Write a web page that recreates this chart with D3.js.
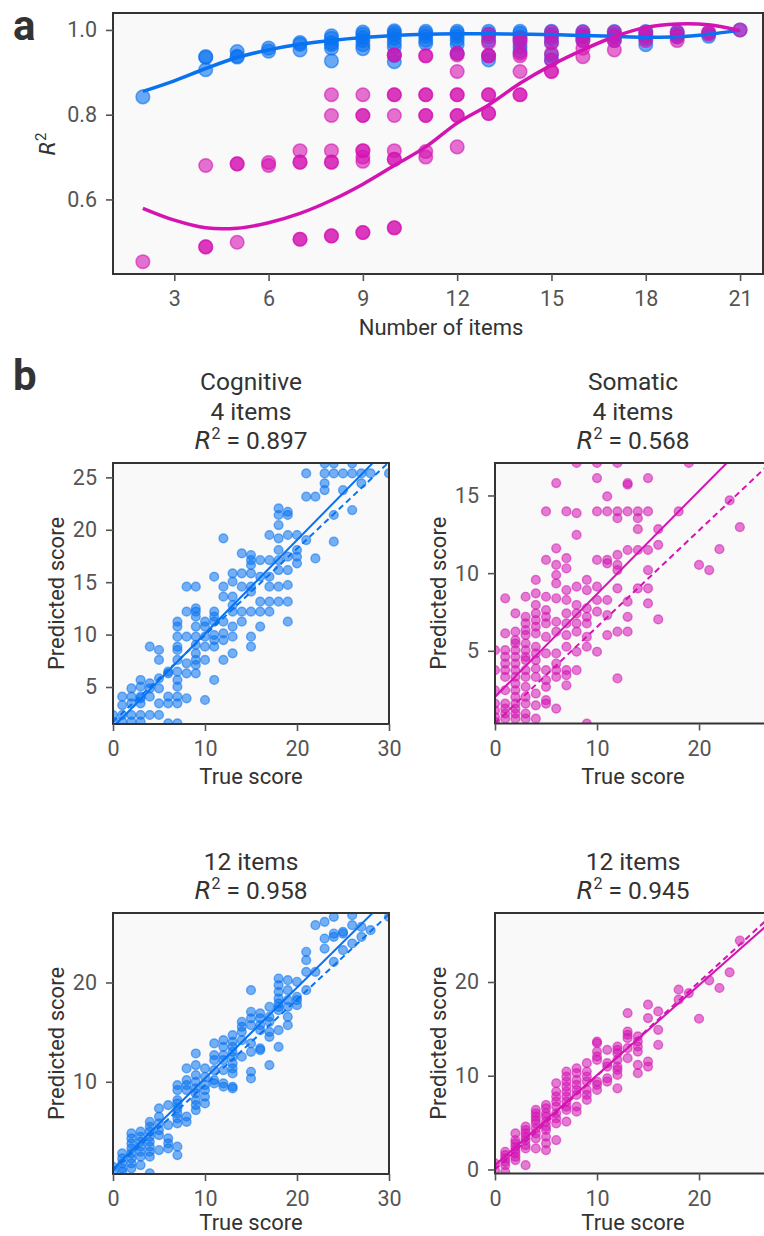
<!DOCTYPE html>
<html>
<head>
<meta charset="utf-8">
<script src="https://cdn.jsdelivr.net/npm/d3@7"></script>
<style>
  body { margin: 0; background: #fff; }
  svg { display: block; font-family: Roboto, "DejaVu Sans", sans-serif; }
</style>
</head>
<body>
<svg id="fig" width="764" height="1236"></svg>
<script>
// ---------- panel a: R^2 vs number of items ----------
const itemTicks = [3, 6, 9, 12, 15, 18, 21];
const r2Ticks = [0.6, 0.8, 1.0];
const fitItems = [2, 3, 4, 5, 6, 7, 8, 9, 10, 11, 12, 13, 14, 15, 16, 17, 18, 19, 20, 21];
const cognitiveFit = [0.855, 0.880, 0.909, 0.935, 0.953, 0.966, 0.975, 0.982, 0.987, 0.990,
                      0.991, 0.991, 0.990, 0.989, 0.987, 0.985, 0.983, 0.984, 0.990, 0.999];
const somaticFit = [0.579, 0.551, 0.533, 0.532, 0.545, 0.567, 0.598, 0.636, 0.680, 0.724,
                    0.780, 0.823, 0.874, 0.917, 0.953, 0.984, 1.006, 1.014, 1.012, 0.998];

// [items, R^2]
const cognitiveR2 = [
  [2, .842], [4, .937], [4, .935], [4, .906], [5, .949], [5, .938], [5, .936], [6, .957], [6, .950],
  [7, .970], [7, .966], [7, .953], [8, .986], [8, .980], [8, .970], [8, .965], [8, .957], [8, .927],
  [9, .995], [9, .990], [9, .982], [9, .975], [9, .965], [9, .956],
  [10, .998], [10, .994], [10, .988], [10, .980], [10, .970], [10, .960], [10, .940], [10, .925],
  [11, .997], [11, .992], [11, .985], [11, .976], [11, .968],
  [12, .997], [12, .992], [12, .985], [12, .976], [12, .966], [12, .945],
  [13, .997], [13, .991], [13, .984], [13, .975], [13, .940], [13, .929],
  [14, .997], [14, .992], [14, .984], [14, .976], [14, .960], [14, .950],
  [15, .997], [15, .990], [15, .980], [15, .970], [15, .940], [15, .929],
  [16, .996], [16, .990], [16, .983], [16, .975], [17, .996], [17, .990], [17, .983], [17, .975],
  [18, .996], [18, .990], [18, .980], [18, .965], [19, .995], [19, .990], [19, .983],
  [20, .993], [20, .985], [21, 1.0]
];
const somaticR2 = [
  [2, .453], [4, .680], [4, .488], [4, .488], [5, .684], [5, .684], [5, .499], [6, .687], [6, .680],
  [7, .715], [7, .688], [7, .688], [7, .506], [7, .506],
  [8, .847], [8, .798], [8, .715], [8, .688], [8, .688], [8, .514], [8, .514],
  [9, .847], [9, .798], [9, .798], [9, .715], [9, .715], [9, .700], [9, .690], [9, .522], [9, .522],
  [10, .941], [10, .941], [10, .847], [10, .847], [10, .798], [10, .715], [10, .695], [10, .695], [10, .533], [10, .533],
  [11, .939], [11, .939], [11, .847], [11, .847], [11, .798], [11, .798], [11, .713], [11, .700],
  [12, .945], [12, .941], [12, .902], [12, .847], [12, .847], [12, .798], [12, .798], [12, .724],
  [13, .990], [13, .970], [13, .939], [13, .939], [13, .847], [13, .847], [13, .803], [13, .803],
  [14, .980], [14, .970], [14, .945], [14, .939], [14, .902], [14, .847], [14, .847],
  [15, .995], [15, .985], [15, .970], [15, .945], [15, .929], [15, .902], [15, .902],
  [16, .995], [16, .985], [16, .975], [16, .957], [16, .937],
  [17, .995], [17, .985], [17, .975], [17, .953],
  [18, .995], [18, .985], [18, .975], [19, .995], [19, .985], [19, .975],
  [20, .995], [20, .990], [21, 1.0]
];

// ---------- panel b: predicted vs true score, [true, [predicted...]] ----------
const cog4Cols = [
  [0, [2.33, 1.69]], [1, [2.33, 1.69, 4.08, 3.28]], [2, [2.33, 1.69, 4.87, 4.08, 3.44]],
  [3, [2.33, 1.69, 5.03, 5.67, 4.08, 3.44, 3.92]], [4, [2.33, 4.08, 4.87, 5.35, 8.85]],
  [5, [2.33, 3.44, 4.87, 5.83, 7.58, 8.53]], [6, [1.53, 4.08, 3.44, 6.30, 6.46]],
  [7, [1.53, 3.44, 4.08, 5.03, 5.67, 6.46, 7.58, 8.53, 8.85, 9.80, 10.76, 11.23]],
  [8, [3.92, 6.30, 7.26, 9.80, 12.19, 14.57]],
  [9, [6.30, 7.10, 7.58, 8.21, 9.01, 9.80, 10.76, 11.71, 12.19, 12.50, 14.57]],
  [10, [3.76, 7.58, 8.85, 9.80, 10.76, 11.23]],
  [11, [5.67, 8.85, 9.48, 9.96, 11.23, 11.71, 12.19, 15.52]],
  [12, [7.58, 9.48, 10.12, 11.23, 13.62, 14.57, 19.18]],
  [13, [8.21, 9.80, 10.76, 12.19, 12.82, 13.62, 15.05, 15.84]],
  [14, [11.23, 12.19, 14.57, 15.84, 17.75]],
  [15, [8.85, 9.80, 12.19, 14.09, 14.57, 15.84, 16.64, 17.11, 17.59]],
  [16, [10.76, 12.19, 13.14, 15.52, 17.11]],
  [17, [12.19, 13.14, 14.57, 15.52, 17.11, 19.50]],
  [18, [13.14, 14.57, 16.16, 17.11, 18.07, 19.18, 20.45, 21.41, 22.04]],
  [19, [11.23, 13.14, 14.73, 16.16, 17.43, 19.50, 21.41, 21.72]],
  [20, [16.80, 17.43, 18.07, 19.50]], [21, [19.02, 23.16, 25.38]], [22, [17.27, 23.16]],
  [23, [23.79, 24.43, 25.38, 26.34]], [24, [18.86, 21.41, 25.38, 26.34]], [25, [23.79, 25.38]],
  [26, [21.88, 25.38, 26.34]], [27, [24.43, 25.38]], [28, [25.38]], [30, [25.38]]
];
const som4Cols = [
  [0, [5.04, 3.75, 2.46, 1.60, 1.17, 0.74, 0.42]],
  [1, [8.38, 6.12, 5.04, 4.61, 4.18, 3.75, 3.32, 2.46, 1.60, 1.28, 0.96, 0.63]],
  [2, [7.41, 6.23, 5.69, 5.47, 5.04, 4.61, 4.18, 3.75, 3.32, 2.89, 2.46, 2.03, 1.60, 1.28, 0.96, 0.63]],
  [3, [8.48, 7.19, 6.76, 6.33, 6.01, 5.47, 5.04, 4.61, 4.40, 3.75, 3.32, 2.68, 2.03, 1.60, 0.96, 0.63]],
  [4, [9.56, 8.70, 7.95, 7.41, 6.98, 6.55, 6.12, 5.26, 4.83, 4.40, 3.86, 3.32, 2.25, 1.49, 0.63]],
  [5, [13.97, 10.85, 8.48, 7.62, 7.19, 6.76, 5.90, 4.83, 3.75, 3.11, 2.68, 1.82, 1.60]],
  [6, [15.80, 11.60, 10.53, 9.88, 9.34, 8.38, 6.87, 6.23, 4.83, 4.18, 3.75, 3.32, 1.28]],
  [7, [13.97, 10.96, 10.31, 8.91, 8.27, 7.41, 6.76, 6.01, 5.26, 3.75, 3.43, 2.78]],
  [8, [17.09, 13.86, 12.46, 9.13, 7.95, 7.41, 6.76, 6.23, 4.94, 3.75]],
  [9, [9.56, 8.91, 7.73, 7.19, 6.76, 5.90, 5.26, 0.31]],
  [10, [17.09, 16.12, 13.97, 10.85, 9.13, 8.27, 7.52, 4.94]],
  [11, [14.94, 13.97, 10.85, 10.63, 8.27, 7.30, 6.01]],
  [12, [17.09, 13.97, 13.54, 11.17, 10.53, 10.20, 9.02, 6.23, 3.22]],
  [13, [15.80, 15.69, 13.97, 11.49, 8.16, 7.19, 6.23]],
  [14, [13.97, 13.54, 12.83, 11.49, 9.02]],
  [15, [16.12, 13.97, 11.49, 10.20, 9.02, 8.05]],
  [16, [12.83, 11.82, 7.02]], [18, [13.97]], [19, [17.09]], [20, [10.53]],
  [21, [10.20]], [22, [11.54]], [23, [14.68]], [24, [12.96]]
];
const cog12Cols = [
  [0, [1.44, 0.94]], [1, [2.79, 2.28, 1.78, 1.28, 0.94]],
  [2, [4.80, 4.30, 3.79, 3.29, 2.79, 2.28, 1.78, 1.28]],
  [3, [4.97, 4.46, 3.96, 3.46, 2.95, 2.45, 1.61]],
  [4, [5.97, 5.47, 4.97, 4.46, 3.96, 3.46, 2.95, 2.45, 0.77]],
  [5, [7.32, 6.48, 5.81, 5.13, 4.63, 3.12]], [6, [7.65, 5.64, 4.30, 3.79, 3.29]],
  [7, [9.66, 9.16, 8.15, 7.82, 7.32, 6.81, 6.31, 5.81, 3.46, 2.62]],
  [8, [11.34, 10.17, 9.66, 9.16, 6.48, 5.97]],
  [9, [12.85, 11.68, 10.67, 10.00, 9.33, 8.83, 8.15, 7.65, 7.15]],
  [10, [11.34, 10.50, 9.66, 9.16, 8.49, 7.82]],
  [11, [13.86, 12.68, 12.18, 11.17, 10.17, 9.83]],
  [12, [14.19, 13.52, 12.68, 12.18, 11.17, 9.83, 9.50]],
  [13, [14.70, 14.03, 13.52, 13.02, 12.52, 11.85, 11.34, 10.84, 9.50, 9.33]],
  [14, [16.04, 15.54, 15.03, 14.19, 12.52]],
  [15, [19.23, 17.05, 16.38, 15.70, 13.86, 13.02, 11.01, 10.34]],
  [16, [16.88, 16.38, 15.70, 15.20, 13.36, 13.19]],
  [17, [17.55, 16.54, 16.04, 15.03, 14.53, 11.68]],
  [18, [20.40, 19.73, 19.06, 18.39, 17.89, 17.55, 17.21, 15.20, 13.52]],
  [19, [20.23, 19.23, 18.22, 17.55, 16.54, 15.70]],
  [20, [20.07, 18.56, 18.22, 17.72]], [21, [23.09, 22.25, 21.07, 19.23]], [22, [25.77, 21.07]],
  [23, [26.11, 24.43, 23.42]], [24, [26.61, 24.93, 24.60, 22.08]], [25, [25.10, 24.93, 23.26]],
  [26, [26.78, 25.77, 23.93]], [27, [25.60, 24.60]], [28, [25.27]], [30, [26.61]]
];
const som12Cols = [
  [0, [0.64, -0.07]], [1, [1.89, 1.53, 1.18, 0.82, 0.46, -0.25]],
  [2, [3.85, 3.14, 2.78, 2.42, 2.07, 1.71, 1.35, 1.00]],
  [3, [4.56, 4.21, 3.85, 3.49, 3.14, 2.60, 2.25, 0.46]],
  [4, [6.35, 5.99, 5.63, 5.28, 4.92, 4.39, 3.85, 3.32, 2.25]],
  [5, [6.88, 6.52, 5.99, 5.63, 5.10, 4.56, 4.21, 3.49, 2.78, 2.07]],
  [6, [9.20, 8.31, 7.77, 7.24, 6.70, 5.99, 5.45, 4.92, 3.14]],
  [7, [10.45, 9.91, 9.38, 8.84, 8.31, 7.77, 7.24, 6.70, 6.35, 5.10]],
  [8, [10.80, 10.27, 9.55, 9.02, 8.48, 7.95, 6.70, 6.17]],
  [9, [11.34, 10.45, 9.91, 9.38, 8.48, 7.95, 7.42]],
  [10, [13.65, 13.48, 12.58, 12.05, 11.69, 9.38, 9.02, 8.48]],
  [11, [12.76, 11.34, 10.98, 9.73, 9.38]],
  [12, [13.12, 12.76, 12.41, 11.69, 10.98, 10.62, 10.09, 8.66]],
  [13, [16.68, 14.72, 14.37, 14.01, 12.94, 11.87]],
  [14, [14.19, 13.65, 13.12, 12.58, 11.16, 10.27]],
  [15, [17.58, 16.15, 11.52, 10.98]], [16, [16.86, 14.90, 13.30]],
  [18, [19.18, 18.11]], [19, [18.82]], [20, [16.08]], [21, [20.18]],
  [22, [19.36]], [23, [21.03]], [24, [24.42]]
];
// [slope, intercept] of the solid fit line and the dashed reference line
const cog4Fit = [0.893, 1.16], cog4Ref = [0.826, 1.68];
const som4Fit = [0.663, 2.03], som4Ref = [0.621, 0.33];
const cog12Fit = [0.914, 1.21], cog12Ref = [0.86, 1.08];
const som12Fit = [0.960, 0.46], som12Ref = [1.0, 0.0];

const BLUE = "#0872f0", MAG = "#d314b3";
const BG = "#f9f9f9", FRAME = "#333", TICK = "#555", TXT = "#333";
const TICK_FS = "21.5px", LABEL_FS = "22px", TITLE_FS = "24.5px";

const svg = d3.select("#fig");
const flat = cols => cols.flatMap(([x, ys]) => ys.map(y => [x, y]));

function styleAxis(sel) {
  sel.attr("font-size", null).attr("font-family", null);
  sel.select(".domain").remove();
  sel.selectAll(".tick line").attr("stroke", TICK).attr("stroke-width", 1.6);
  sel.selectAll(".tick text").attr("fill", TICK).style("font-size", TICK_FS);
}

function drawFrame(g, x, y) {
  const [x0, x1] = x.range(), [y0, y1] = y.range();
  g.append("rect").attr("x", x0).attr("y", y1).attr("width", x1 - x0).attr("height", y0 - y1)
    .attr("fill", "none").attr("stroke", FRAME).attr("stroke-width", 2);
}

function addClip(id, x, y) {
  const [x0, x1] = x.range(), [y0, y1] = y.range();
  svg.append("clipPath").attr("id", id).append("rect")
    .attr("x", x0).attr("y", y1).attr("width", x1 - x0).attr("height", y0 - y1);
}

// ---------------- panel a ----------------
{
  const x = d3.scaleLinear().domain([1.05, 21.73]).range([113, 763]);
  const y = d3.scaleLinear().domain([0.424, 1.04]).range([274, 13]);
  const g = svg.append("g");
  addClip("clip-a", x, y);
  g.append("rect").attr("x", 113).attr("y", 13).attr("width", 650).attr("height", 261).attr("fill", BG);
  const p = g.append("g").attr("clip-path", "url(#clip-a)");

  [[cognitiveR2, BLUE], [somaticR2, MAG]].forEach(([pts, c]) => {
    p.append("g").selectAll("circle").data(pts).join("circle")
      .attr("cx", d => x(d[0])).attr("cy", d => y(d[1])).attr("r", 6.8)
      .attr("fill", c).attr("fill-opacity", 0.6)
      .attr("stroke", c).attr("stroke-opacity", 0.6).attr("stroke-width", 1.5);
  });

  const line = vals => d3.line().curve(d3.curveCatmullRom)
    .x((d, i) => x(fitItems[i])).y(d => y(d))(vals);
  p.append("path").attr("d", line(cognitiveFit)).attr("fill", "none").attr("stroke", BLUE).attr("stroke-width", 3.5);
  p.append("path").attr("d", line(somaticFit)).attr("fill", "none").attr("stroke", MAG).attr("stroke-width", 3.5);

  drawFrame(g, x, y);
  g.append("g").attr("transform", "translate(0,274)")
    .call(d3.axisBottom(x).tickValues(itemTicks).tickSize(7).tickPadding(10)).call(styleAxis);
  g.append("g").attr("transform", "translate(113,0)")
    .call(d3.axisLeft(y).tickValues(r2Ticks).tickFormat(d3.format(".1f")).tickSize(7).tickPadding(9)).call(styleAxis);

  g.append("text").attr("x", 441).attr("y", 335).attr("text-anchor", "middle")
    .attr("fill", TXT).style("font-size", LABEL_FS).text("Number of items");
  const r2 = g.append("text").attr("transform", "translate(55,144) rotate(-90)")
    .attr("text-anchor", "middle").attr("fill", TXT).style("font-size", "21px");
  r2.append("tspan").style("font-style", "italic").attr("font-family", "DejaVu Sans").text("R");
  r2.append("tspan").attr("dy", -9).style("font-size", "15px").text("2");

  svg.append("text").attr("x", 13).attr("y", 40).attr("fill", TXT)
    .style("font-size", "42px").style("font-weight", "bold").text("a");
}

// ---------------- panel b ----------------
svg.append("text").attr("x", 13).attr("y", 390).attr("fill", TXT)
  .style("font-size", "42px").style("font-weight", "bold").text("b");

function scatterPanel(o) {
  const x = d3.scaleLinear().domain(o.xDomain).range(o.xRange);
  const y = d3.scaleLinear().domain(o.yDomain).range(o.yRange);
  const g = svg.append("g");
  addClip("clip-" + o.id, x, y);
  const [x0, x1] = o.xRange, [y0, y1] = o.yRange;
  g.append("rect").attr("x", x0).attr("y", y1).attr("width", x1 - x0).attr("height", y0 - y1).attr("fill", BG);
  const p = g.append("g").attr("clip-path", `url(#clip-${o.id})`);

  p.append("g").selectAll("circle").data(flat(o.cols)).join("circle")
    .attr("cx", d => x(d[0])).attr("cy", d => y(d[1])).attr("r", 4.4)
    .attr("fill", o.color).attr("fill-opacity", 0.55)
    .attr("stroke", o.color).attr("stroke-opacity", 0.55).attr("stroke-width", 1.4);

  const [d0, d1] = o.xDomain;
  [[o.fit, null], [o.ref, "6,4"]].forEach(([[m, b], dash]) => {
    p.append("line")
      .attr("x1", x(d0)).attr("y1", y(b + m * d0))
      .attr("x2", x(d1)).attr("y2", y(b + m * d1))
      .attr("stroke", o.color).attr("stroke-width", 2)
      .attr("stroke-dasharray", dash);
  });

  drawFrame(g, x, y);
  g.append("g").attr("transform", `translate(0,${y0})`)
    .call(d3.axisBottom(x).tickValues(o.xTicks).tickSize(7).tickPadding(10)).call(styleAxis);
  g.append("g").attr("transform", `translate(${x0},0)`)
    .call(d3.axisLeft(y).tickValues(o.yTicks).tickSize(7).tickPadding(9)).call(styleAxis);

  const cx = o.labelX;
  g.append("text").attr("x", cx).attr("y", Math.min(y0 + 60, 1230)).attr("text-anchor", "middle")
    .attr("fill", TXT).style("font-size", LABEL_FS).text("True score");
  g.append("text").attr("transform", `translate(${x0 - 49},${(y0 + y1) / 2}) rotate(-90)`)
    .attr("text-anchor", "middle").attr("fill", TXT).style("font-size", LABEL_FS).text("Predicted score");

  const lines = o.title;
  lines.forEach((t, i) => {
    const base = y1 - 14 - (lines.length - 1 - i) * 29.3;
    const txt = g.append("text").attr("x", cx).attr("y", base).attr("text-anchor", "middle")
      .attr("fill", TXT).style("font-size", TITLE_FS);
    if (t.startsWith("R2")) {
      txt.append("tspan").style("font-style", "italic").attr("font-family", "DejaVu Sans").text("R");
      txt.append("tspan").attr("dy", -10).style("font-size", "16px").text("2");
      txt.append("tspan").attr("dy", 10).text(t.slice(2));
    } else {
      txt.text(t);
    }
  });
}

scatterPanel({ id: "c4", cols: cog4Cols, color: BLUE, fit: cog4Fit, ref: cog4Ref,
  xDomain: [0, 30], xRange: [113, 389], yDomain: [1.47, 26.37], yRange: [724, 463],
  xTicks: [0, 10, 20, 30], yTicks: [5, 10, 15, 20, 25], labelX: 251,
  title: ["Cognitive", "4 items", "R2 = 0.897"] });
scatterPanel({ id: "s4", cols: som4Cols, color: MAG, fit: som4Fit, ref: som4Ref,
  xDomain: [0, 26.76], xRange: [495, 768], yDomain: [0.32, 17.09], yRange: [723.5, 463],
  xTicks: [0, 10, 20], yTicks: [5, 10, 15], labelX: 633,
  title: ["Somatic", "4 items", "R2 = 0.568"] });
scatterPanel({ id: "c12", cols: cog12Cols, color: BLUE, fit: cog12Fit, ref: cog12Ref,
  xDomain: [0, 30], xRange: [113, 389], yDomain: [0.71, 27.0], yRange: [1174, 913],
  xTicks: [0, 10, 20, 30], yTicks: [10, 20], labelX: 251,
  title: ["12 items", "R2 = 0.958"] });
scatterPanel({ id: "s12", cols: som12Cols, color: MAG, fit: som12Fit, ref: som12Ref,
  xDomain: [0, 26.76], xRange: [495, 768], yDomain: [-0.43, 27.36], yRange: [1173.5, 913],
  xTicks: [0, 10, 20], yTicks: [0, 10, 20], labelX: 633,
  title: ["12 items", "R2 = 0.945"] });
</script>
</body>
</html>
